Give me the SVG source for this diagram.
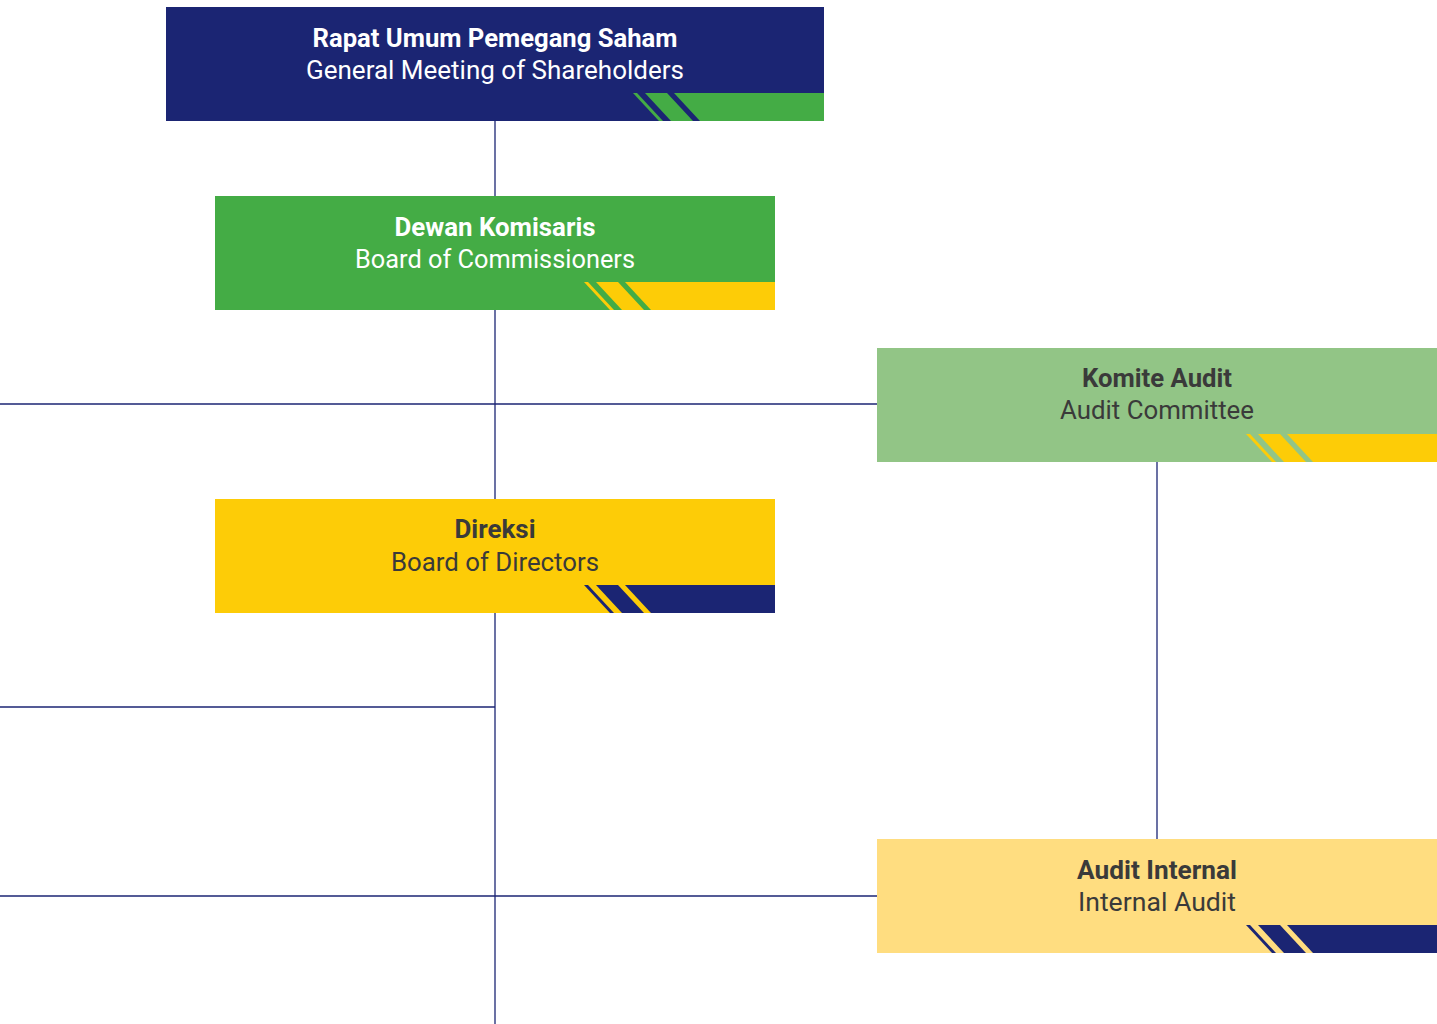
<svg xmlns="http://www.w3.org/2000/svg" width="1437" height="1024" viewBox="0 0 1437 1024">
<style>
.t{font-family:Roboto,"Liberation Sans",sans-serif;font-size:25px;text-anchor:middle}
.b{font-weight:bold}
.w{fill:#ffffff}
.d{fill:#3a3a3a}
.c{stroke:#1B2573;stroke-width:1.3;fill:none}
</style>
<defs>
<g id="stripes">
<polygon points="-191,0 -187,0 -161,28 -165,28"/>
<polygon points="-179,0 -157,0 -131,28 -153,28"/>
<polygon points="-150,0 0,0 0,28 -124,28"/>
</g>
</defs>
<rect width="1437" height="1024" fill="#ffffff"/>
<g id="connectors">
<line class="c" x1="495" y1="121" x2="495" y2="196"/>
<line class="c" x1="495" y1="310" x2="495" y2="499"/>
<line class="c" x1="0" y1="404" x2="877" y2="404"/>
<line class="c" x1="495" y1="613" x2="495" y2="1024"/>
<line class="c" x1="0" y1="707" x2="495" y2="707"/>
<line class="c" x1="0" y1="896" x2="877" y2="896"/>
<line class="c" x1="1157" y1="462" x2="1157" y2="839"/>
</g>
<g id="rups">
<rect x="166" y="7" width="658" height="114" fill="#1B2573"/>
<use href="#stripes" fill="#44AC45" transform="translate(824,93)"/>
<text class="t b w" x="495" y="47" textLength="365" lengthAdjust="spacingAndGlyphs">Rapat Umum Pemegang Saham</text>
<text class="t w" x="495" y="79" textLength="378" lengthAdjust="spacingAndGlyphs">General Meeting of Shareholders</text>
</g>
<g id="dekom">
<rect x="215" y="196" width="560" height="114" fill="#44AC45"/>
<use href="#stripes" fill="#FDCC07" transform="translate(775,282)"/>
<text class="t b w" x="495" y="236" textLength="201" lengthAdjust="spacingAndGlyphs">Dewan Komisaris</text>
<text class="t w" x="495" y="268" textLength="280" lengthAdjust="spacingAndGlyphs">Board of Commissioners</text>
</g>
<g id="direksi">
<rect x="215" y="499" width="560" height="114" fill="#FDCC07"/>
<use href="#stripes" fill="#1B2573" transform="translate(775,585)"/>
<text class="t b d" x="495" y="538" textLength="81" lengthAdjust="spacingAndGlyphs">Direksi</text>
<text class="t d" x="495" y="571" textLength="208" lengthAdjust="spacingAndGlyphs">Board of Directors</text>
</g>
<g id="komite">
<rect x="877" y="348" width="560" height="114" fill="#92C586"/>
<use href="#stripes" fill="#FDCC07" transform="translate(1437,434)"/>
<text class="t b d" x="1157" y="387" textLength="150" lengthAdjust="spacingAndGlyphs">Komite Audit</text>
<text class="t d" x="1157" y="419" textLength="194" lengthAdjust="spacingAndGlyphs">Audit Committee</text>
</g>
<g id="internal">
<rect x="877" y="839" width="560" height="114" fill="#FFDD80"/>
<use href="#stripes" fill="#1B2573" transform="translate(1437,925)"/>
<text class="t b d" x="1157" y="879" textLength="160" lengthAdjust="spacingAndGlyphs">Audit Internal</text>
<text class="t d" x="1157" y="911" textLength="158" lengthAdjust="spacingAndGlyphs">Internal Audit</text>
</g>
</svg>
